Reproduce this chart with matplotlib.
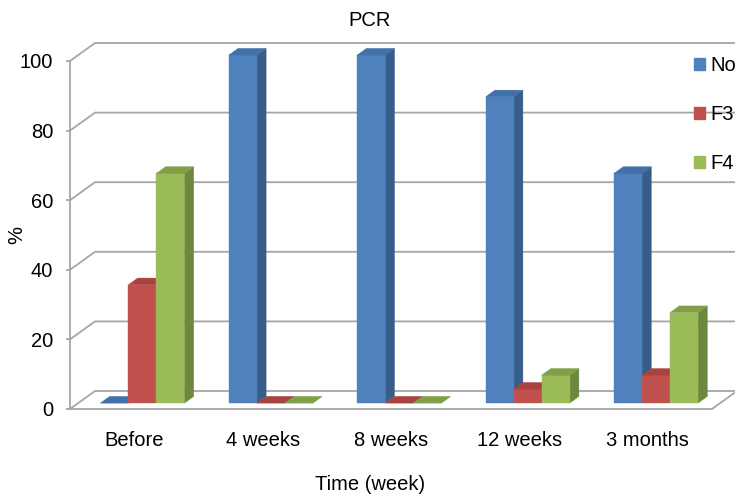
import matplotlib
matplotlib.use("Agg")
import matplotlib.pyplot as plt
from matplotlib.patches import Polygon, Patch

plt.rcParams['font.family'] = ['Liberation Sans', 'DejaVu Sans']

# PCR results over time (% of patients)
categories = ["Before", "4 weeks", "8 weeks", "12 weeks", "3 months"]
series_names = ["Normal", "F3", "F4"]
normal = [0, 100, 100, 88, 66]
f3 = [34, 0, 0, 4, 8]
f4 = [66, 0, 0, 8, 26]
series_values = [normal, f3, f4]
y_ticks = [0, 20, 40, 60, 80, 100]

# front / side / top shades for each series (Excel 3D look)
shades = [
    ("#4F81BD", "#375D8A", "#4270A9"),
    ("#C0504D", "#8D3A38", "#A8433F"),
    ("#9BBB59", "#6D873E", "#809F47"),
]

FS = 14.5
W, H = 735, 497
fig = plt.figure(figsize=(W / 100, H / 100), dpi=100)
# front plane of the 3D box
ax = fig.add_axes([70 / W, (H - 409) / H, (712 - 70) / W, (409 - 61) / H])
ax.set_xlim(0, len(categories))
ax.set_ylim(0, 100)

# depth of the box in data units (oblique projection)
px_x = len(categories) / (712 - 70)
px_y = 100 / (409 - 61)
ddx, ddy = 25 * px_x, 18 * px_y
f0, f1 = 0.33, 0.70          # bars sit between these depth fractions
bar_w = 28 * px_x

grid_col = "#A6A6A6"
n = len(categories)
for t in y_ticks:
    ax.plot([0, ddx, n + ddx], [t, t + ddy, t + ddy], color=grid_col,
            lw=1.3, clip_on=False, zorder=1)
# floor front and right edges
ax.plot([0, n, n + ddx], [0, 0, ddy], color=grid_col, lw=1.3,
        clip_on=False, zorder=1)

for gi in range(n):
    for si, vals in enumerate(series_values):
        v = vals[gi]
        x0 = gi + 0.5 + (si - 1.5) * bar_w
        fx, fy = f0 * ddx, f0 * ddy
        bx, by = f1 * ddx, f1 * ddy
        front_c, side_c, top_c = shades[si]
        front = [(x0 + fx, fy), (x0 + bar_w + fx, fy),
                 (x0 + bar_w + fx, v + fy), (x0 + fx, v + fy)]
        side = [(x0 + bar_w + fx, fy), (x0 + bar_w + bx, by),
                (x0 + bar_w + bx, v + by), (x0 + bar_w + fx, v + fy)]
        top = [(x0 + fx, v + fy), (x0 + bar_w + fx, v + fy),
               (x0 + bar_w + bx, v + by), (x0 + bx, v + by)]
        for pts, c in ((side, side_c), (front, front_c), (top, top_c)):
            ax.add_patch(Polygon(pts, closed=True, facecolor=c,
                                 edgecolor=c, lw=0.3, clip_on=False, zorder=3))

for side_name in ("top", "right", "bottom"):
    ax.spines[side_name].set_visible(False)
ax.spines["left"].set_color(grid_col)
ax.spines["left"].set_linewidth(1.3)

ax.set_yticks(y_ticks)
ax.set_xticks([i + 0.5 for i in range(n)])
ax.set_xticklabels(categories)
ax.tick_params(axis="y", length=3, width=1.3, color=grid_col, pad=9,
               labelsize=FS)
ax.tick_params(axis="x", length=0, pad=16, labelsize=FS)
ax.set_ylabel("%", fontsize=FS)
ax.yaxis.set_label_coords(-44 / (712 - 70), 0.5)

fig.text(370 / W, 1 - 20 / H, "PCR", ha="center", va="center", fontsize=FS)
fig.text(370 / W, 1 - 484 / H, "Time (week)", ha="center", va="center",
         fontsize=FS)

handles = [Patch(facecolor=s[0], edgecolor=s[0]) for s in shades]
fig.legend(handles, series_names, loc="upper left",
           bbox_to_anchor=(694 / W, 1 - 56 / H), frameon=False,
           fontsize=FS, handlelength=0.55, handleheight=0.55,
           handletextpad=0.25, labelspacing=1.5, borderpad=0,
           borderaxespad=0)

fig.savefig("out.png", dpi=100)
